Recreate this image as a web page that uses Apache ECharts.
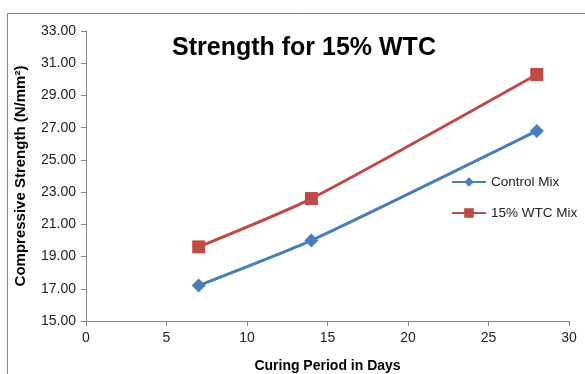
<!DOCTYPE html>
<html>
<head>
<meta charset="utf-8">
<script src="https://cdn.jsdelivr.net/npm/echarts@6/dist/echarts.min.js"></script>
<style>
  html, body { margin: 0; padding: 0; background: #fff; }
  #chart { width: 585px; height: 374px; }
</style>
</head>
<body>
<div id="chart"></div>
<script>
// curing days and strength values
const days = [7, 14, 28];
const controlMix = [17.2, 20.0, 26.8];
const wtcMix = [19.6, 22.6, 30.3];
const seriesNames = ["Control Mix", "15% WTC Mix"];

const chart = echarts.init(document.getElementById("chart"));

const font = "'Liberation Sans', Arial, sans-serif";

const option = {
  backgroundColor: "#fff",
  animation: false,
  title: {
    text: "Strength for 15% WTC",
    left: 299,
    textAlign: "center",
    top: 31,
    textStyle: { fontFamily: font, fontSize: 25, fontWeight: "bold", color: "#000" },
  },
  legend: {
    orient: "vertical",
    left: 446,
    top: 170,
    itemGap: 17,
    itemWidth: 34,
    itemHeight: 12,
    textStyle: { fontFamily: font, fontSize: 13.5, color: "#222" },
    data: seriesNames,
  },
  graphic: [
    {
      type: "polyline",
      shape: { points: [[7.5, 374], [7.5, 13.5], [585, 13.5]] },
      style: { stroke: "#8a8a8a", lineWidth: 1, fill: null },
    },
  ],
  grid: { left: 86, right: 16, top: 31, bottom: 53, outerBoundsMode: "none", containLabel: false },
  xAxis: {
    type: "value",
    min: 0,
    max: 30,
    interval: 5,
    name: "Curing Period in Days",
    nameLocation: "middle",
    nameGap: 38,
    nameTextStyle: { fontFamily: font, fontSize: 14, fontWeight: "bold", color: "#000" },
    axisLine: { lineStyle: { color: "#868686" } },
    axisTick: { show: true, length: 5, lineStyle: { color: "#868686" } },
    axisLabel: { fontFamily: font, fontSize: 14, color: "#222", margin: 10 },
    splitLine: { show: false },
  },
  yAxis: {
    type: "value",
    min: 15,
    max: 33,
    interval: 2,
    name: "Compressive Strength (N/mm²)",
    nameLocation: "middle",
    nameGap: 58,
    nameTextStyle: { fontFamily: font, fontSize: 15, fontWeight: "bold", color: "#000" },
    axisLine: { show: true, lineStyle: { color: "#868686" } },
    axisTick: { show: true, length: 5, lineStyle: { color: "#868686" } },
    axisLabel: {
      fontFamily: font,
      fontSize: 14,
      color: "#222",
      margin: 10,
      formatter: (v) => v.toFixed(2),
    },
    splitLine: { show: false },
  },
  series: [
    {
      name: seriesNames[0],
      type: "line",
      smooth: 0.2,
      data: days.map((d, i) => [d, controlMix[i]]),
      symbol: "diamond",
      symbolSize: 14,
      lineStyle: { color: "#4A7EBB", width: 3 },
      itemStyle: { color: "#4A7EBB" },
    },
    {
      name: seriesNames[1],
      type: "line",
      smooth: 0.2,
      data: days.map((d, i) => [d, wtcMix[i]]),
      symbol: "rect",
      symbolSize: 13,
      lineStyle: { color: "#BE4B48", width: 3 },
      itemStyle: { color: "#BE4B48" },
    },
  ],
};

chart.setOption(option);
</script>
</body>
</html>
